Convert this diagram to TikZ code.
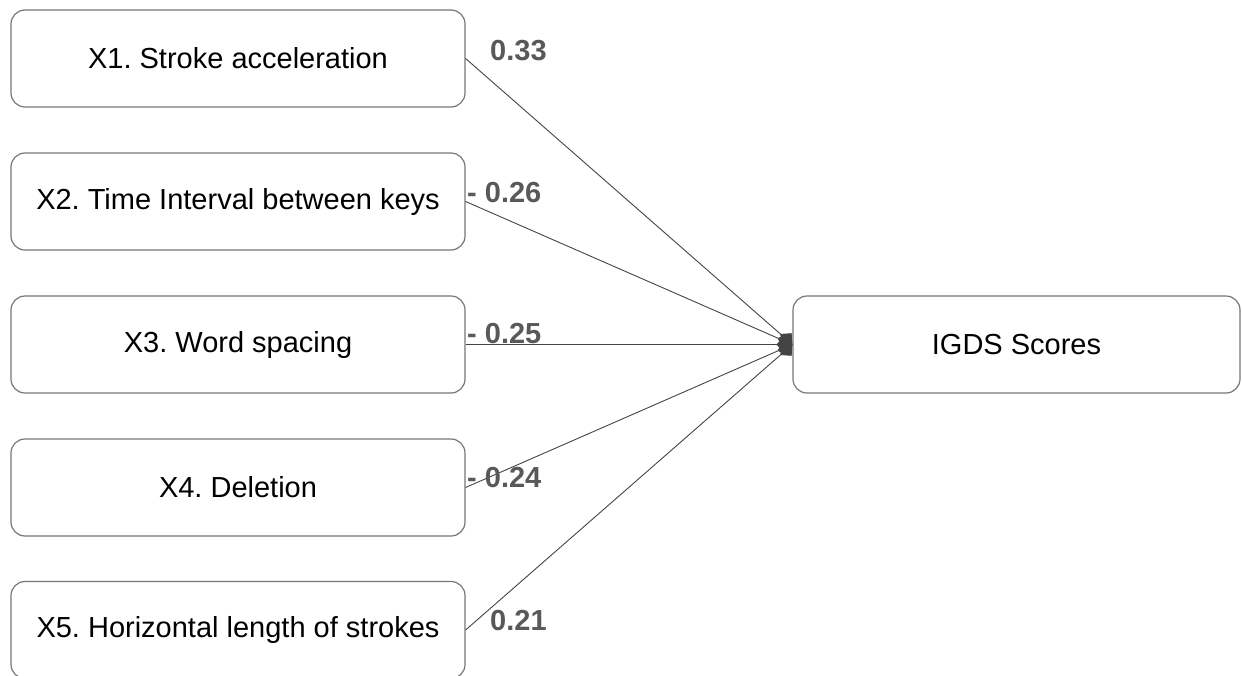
\documentclass[tikz,border=0pt]{standalone}
\usepackage{fontspec}
\setmainfont{Liberation Sans}
\usetikzlibrary{arrows.meta}
\definecolor{boxline}{HTML}{777777}
\definecolor{connc}{HTML}{444444}
\definecolor{lbl}{HTML}{595959}
\begin{document}
\frenchspacing
\begin{tikzpicture}[x=1pt,y=-1pt,
  varbox/.style={draw=boxline,line width=1.2pt,rounded corners=14pt,
    minimum width=454pt,minimum height=97pt,inner sep=0pt,
    font=\fontsize{29}{34}\selectfont\frenchspacing,text=black},
  outbox/.style={varbox,minimum width=447pt},
  connline/.style={draw=connc,line width=0.9pt,-{Diamond[length=16pt,width=16pt,fill=connc]}},
  coef/.style={anchor=base west,inner sep=0pt,text=lbl,
    font=\fontsize{29}{34}\selectfont\bfseries}]
\useasboundingbox (0,0) rectangle (1242,675);
\node[varbox] (x1) at (238,58.5) {X1. Stroke acceleration};
\node[varbox] (x2) at (238,201.5) {X2. Time Interval between keys};
\node[varbox] (x3) at (238,344.5) {X3. Word spacing};
\node[varbox] (x4) at (238,487.5) {X4. Deletion};
\node[varbox] (x5) at (238,630) {X5. Horizontal length of strokes};
\node[outbox] (y) at (1016.5,344.5) {IGDS Scores};
\foreach \n in {x1,x2,x3,x4,x5} {\draw[connline] (\n.east) -- (y.west);}
\node[coef] (c1) at (490,60) {0.33};
\node[coef] (c2) at (467,202) {- 0.26};
\node[coef] (c3) at (467,343) {- 0.25};
\node[coef] (c4) at (467,487) {- 0.24};
\node[coef] (c5) at (490,630) {0.21};
\end{tikzpicture}
\end{document}
